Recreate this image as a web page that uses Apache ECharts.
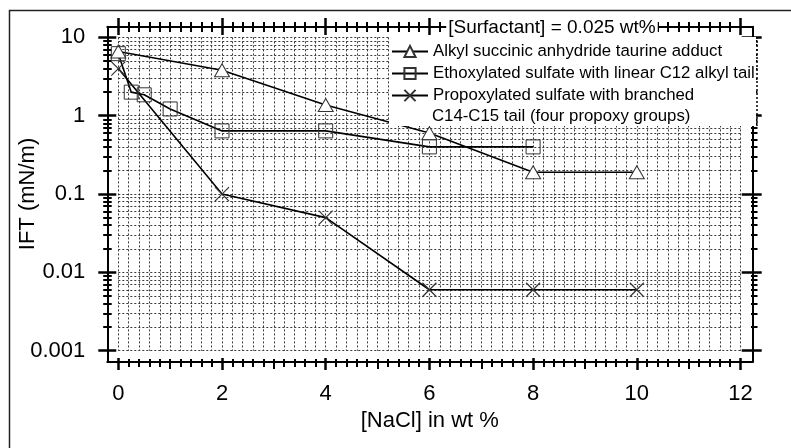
<!DOCTYPE html>
<html><head><meta charset="utf-8">
<script src="https://cdn.jsdelivr.net/npm/echarts@6/dist/echarts.min.js"></script>
<style>html,body{margin:0;padding:0;background:#fff}#c{width:791px;height:448px}</style>
</head><body><div id="c"></div>
<script>
// ---- data ----
const xAlkyl = [0, 2, 4, 6, 8, 10];
const yAlkyl = [6.6, 3.8, 1.37, 0.6, 0.19, 0.19];
const xEthoxy = [0, 0.25, 0.5, 1, 2, 4, 6, 8];
const yEthoxy = [6.2, 2.0, 1.85, 1.22, 0.64, 0.64, 0.4, 0.4];
const xPropoxy = [0, 2, 4, 6, 8, 10];
const yPropoxy = [4.0, 0.1, 0.05, 0.006, 0.006, 0.006];
const seriesNames = ['Alkyl succinic anhydride taurine adduct', 'Ethoxylated sulfate with linear C12 alkyl tail', 'Propoxylated sulfate with branched'];
const legendExtra = 'C14-C15 tail (four propoxy groups)';
const titleText = '[Surfactant] = 0.025 wt%';
const xTitle = '[NaCl] in wt %';
const yTitle = 'IFT (mN/m)';
const xMajorTicks = [0, 2, 4, 6, 8, 10, 12];
const xMidTicks = [1, 3, 5, 7, 9, 11];
const yDecades = [0.001, 0.01, 0.1, 1, 10];
const yMultipliers = [2, 3, 4, 5, 6, 7, 8, 9];

// ---- derived tick lists ----
const xMinorTicks = [];
for (let i = 0; i <= 60; i++) xMinorTicks.push(+(i * 0.2).toFixed(1));
const yMinorTicks = [];
for (let d = 0; d < yDecades.length - 1; d++) for (const m of yMultipliers) yMinorTicks.push(parseFloat((m * yDecades[d]).toPrecision(3)));
const yGridTicks = yDecades.concat(yMinorTicks).sort((a, b) => a - b);

const FONT = 'Liberation Sans, Arial, sans-serif';
// data region and axis frame (pixels)
const IN = {left: 118.3, top: 37.4, width: 622.2, height: 313.3};
const OUT = {left: 107.3, top: 26.7, width: 645, height: 335.3};
const xPerPx = 12 / IN.width;
const decPerPx = 4 / IN.height;
const XMIN = -(IN.left - OUT.left) * xPerPx;
const XMAX = 12 + ((OUT.left + OUT.width) - (IN.left + IN.width)) * xPerPx;
const YMIN = Math.pow(10, -3 - ((OUT.top + OUT.height) - (IN.top + IN.height)) * decPerPx);
const YMAX = Math.pow(10, 1 + (IN.top - OUT.top) * decPerPx);

const blank = {axisLine: {show: false, onZero: false}, axisTick: {show: false}, axisLabel: {show: false}, splitLine: {show: false}};
function xOuter(extra) { return Object.assign({type: 'value', gridIndex: 1, min: XMIN, max: XMAX}, blank, extra); }
function yOuter(extra) { return Object.assign({type: 'log', logBase: 10, gridIndex: 1, min: YMIN, max: YMAX}, blank, extra); }
function ticks(values, len, w) { return {show: true, customValues: values, length: len, lineStyle: {color: '#000', width: w}}; }
const axisLineStyle = {show: true, onZero: false, lineStyle: {color: '#000', width: 2}};
const gridLine = {show: true, lineStyle: {color: '#3a3a3a', type: [2, 2], width: 1}};

const xAxes = [
  Object.assign({type: 'value', gridIndex: 0, min: 0, max: 12}, blank, {axisTick: {show: false, customValues: xMinorTicks}, splitLine: gridLine}),
  xOuter({position: 'bottom', axisLine: axisLineStyle,
    axisLabel: {show: true, customValues: xMajorTicks, fontSize: 22, margin: 21, color: '#000', fontFamily: FONT},
    name: xTitle, nameLocation: 'middle', nameGap: 48, nameTextStyle: {fontSize: 22, color: '#000', fontFamily: FONT}}),
  xOuter({position: 'bottom', offset: -4, axisTick: ticks(xMajorTicks, 12, 2.5)}),
  xOuter({position: 'bottom', offset: -3, axisTick: ticks(xMidTicks, 10, 2)}),
  xOuter({position: 'bottom', offset: -3, axisTick: ticks(xMinorTicks.filter(v => v % 1 !== 0), 8, 2)}),
  xOuter({position: 'top', axisLine: axisLineStyle}),
  xOuter({position: 'top', offset: -8.3, axisTick: ticks(xMajorTicks, 17, 2.5)}),
  xOuter({position: 'top', offset: -5.3, axisTick: ticks(xMinorTicks.filter(v => v % 2 !== 0), 10, 2)})
];
const yAxes = [
  Object.assign({type: 'log', logBase: 10, gridIndex: 0, min: 0.001, max: 10}, blank, {axisTick: {show: false, customValues: yGridTicks}, splitLine: gridLine}),
  yOuter({position: 'left', axisLine: axisLineStyle,
    axisLabel: {show: true, customValues: yDecades, fontSize: 22, margin: 22, color: '#000', fontFamily: FONT,
      formatter: v => String(parseFloat(Number(v).toPrecision(3)))}}),
  yOuter({position: 'left', offset: -9, axisTick: ticks(yDecades, 18, 2.5)}),
  yOuter({position: 'left', offset: -4.4, axisTick: ticks(yMinorTicks, 8.5, 2)}),
  yOuter({position: 'right', axisLine: axisLineStyle}),
  yOuter({position: 'right', offset: -10.6, axisTick: ticks(yDecades, 20, 2.5)}),
  yOuter({position: 'right', offset: -1.3, axisTick: ticks(yMinorTicks, 6.5, 2)})
];

function pairs(xs, ys) { return xs.map((x, i) => [x, ys[i]]); }
const lineStyle = {color: '#000', width: 1.6};
const series = [
  {name: seriesNames[0], type: 'line', xAxisIndex: 0, yAxisIndex: 0, data: pairs(xAlkyl, yAlkyl),
    symbol: 'triangle', symbolSize: [15, 13], lineStyle: lineStyle,
    itemStyle: {color: '#fff', borderColor: '#333', borderWidth: 1}, z: 3},
  {name: seriesNames[1], type: 'line', xAxisIndex: 0, yAxisIndex: 0, data: pairs(xEthoxy, yEthoxy),
    symbol: 'rect', symbolSize: 14, lineStyle: lineStyle,
    itemStyle: {color: 'rgba(255,255,255,0)', borderColor: '#333', borderWidth: 1}, z: 3},
  {name: seriesNames[2], type: 'line', xAxisIndex: 0, yAxisIndex: 0, data: pairs(xPropoxy, yPropoxy),
    symbol: 'path://M0,0L10,10M10,0L0,10', symbolSize: 14, lineStyle: lineStyle,
    itemStyle: {color: 'rgba(255,255,255,0)', borderColor: '#333', borderWidth: 1.2}, z: 3}
];

const chart = echarts.init(document.getElementById('c'), null, {renderer: 'canvas'});
chart.setOption({
  animation: false,
  backgroundColor: '#fff',
  grid: [
    {left: IN.left, top: IN.top, width: IN.width, height: IN.height, containLabel: false, outerBoundsMode: 'none'},
    {left: OUT.left, top: OUT.top, width: OUT.width, height: OUT.height, containLabel: false, outerBoundsMode: 'none'}
  ],
  xAxis: xAxes,
  yAxis: yAxes,
  legend: {
    data: seriesNames, orient: 'vertical', left: 386, top: 38, itemWidth: 36, itemHeight: 14, itemGap: 5,
    textStyle: {fontSize: 16.8, color: '#000', fontFamily: FONT}, z: 200, selectedMode: false
  },
  graphic: {elements: [
    {type: 'rect', shape: {x: 389, y: 37, width: 367, height: 89}, style: {fill: '#fff'}, z: 100},
    {type: 'line', shape: {x1: 757, y1: 37, x2: 757, y2: 126}, style: {stroke: '#000', lineWidth: 1.5, lineDash: [2, 2]}, z: 101},
    {type: 'text', x: 432, y: 116, style: {text: legendExtra, fontSize: 16.8, fontFamily: FONT, fill: '#000', verticalAlign: 'middle'}, z: 150},
    {type: 'text', x: 552, y: 28, style: {text: titleText, fontSize: 19, fontFamily: FONT, fill: '#000', align: 'center', verticalAlign: 'middle', backgroundColor: '#fff', padding: [2, 2, 1, 2]}, z: 150},
    {type: 'text', x: 28, y: 194, rotation: Math.PI / 2, style: {text: yTitle, fontSize: 22, fontFamily: FONT, fill: '#000', align: 'center', verticalAlign: 'middle'}, z: 150},
    {type: 'polyline', shape: {points: [[9.5, 448], [9.5, 10.5], [791, 10.5]]}, style: {stroke: '#222', lineWidth: 1.5, fill: null}, z: 150}
  ]},
  series: series
});
</script></body></html>
